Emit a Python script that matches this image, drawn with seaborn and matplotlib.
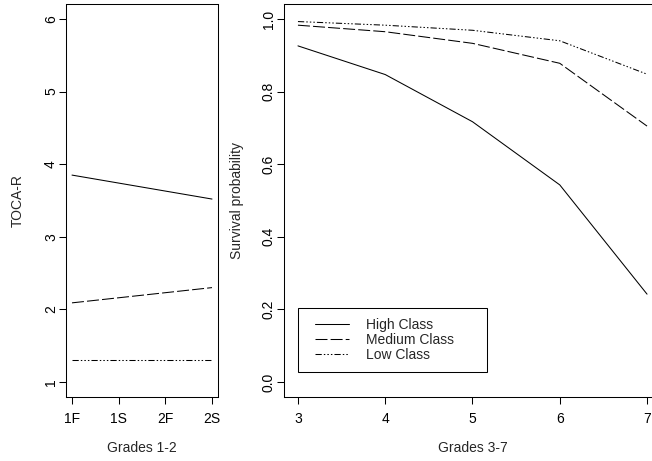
import numpy as np
import pandas as pd
import matplotlib
matplotlib.use("Agg")
import matplotlib.pyplot as plt
from matplotlib.legend_handler import HandlerLine2D
import seaborn as sns

# ---- data ----
classes = ["High Class", "Medium Class", "Low Class"]
grades12 = ["1F", "1S", "2F", "2S"]
toca_high = [3.85, 3.74, 3.63, 3.52]
toca_medium = [2.09, 2.16, 2.23, 2.30]
toca_low = [1.30, 1.30, 1.30, 1.30]

grades37 = [3, 4, 5, 6, 7]
surv_high = [0.926, 0.847, 0.717, 0.543, 0.242]
surv_medium = [0.983, 0.965, 0.933, 0.878, 0.705]
surv_low = [0.993, 0.983, 0.969, 0.940, 0.848]

sns.set_style("white")
plt.rcParams["font.family"] = ["Liberation Sans", "DejaVu Sans"]
plt.rcParams["font.size"] = 10

df1 = pd.DataFrame({
    "pos": list(range(1, 5)) * 3,
    "val": toca_high + toca_medium + toca_low,
    "cls": [c for c in classes for _ in grades12],
})
df2 = pd.DataFrame({
    "grade": grades37 * 3,
    "val": surv_high + surv_medium + surv_low,
    "cls": [c for c in classes for _ in grades37],
})

lw = 0.75
dashes = {
    "High Class": "",
    "Medium Class": (11.5, 3),
    "Low Class": (6, 2, 1.4, 2, 1.4, 2, 1.4, 2),
}
pal = {c: "black" for c in classes}

W, H = 652, 461
fig = plt.figure(figsize=(W / 100, H / 100), dpi=100)

def axpos(x0, x1, ytop, ybot):
    return [x0 / W, (H - ybot) / H, (x1 - x0) / W, (ybot - ytop) / H]

ax1 = fig.add_axes(axpos(66.4, 217.6, 4.5, 396.5))
ax2 = fig.add_axes(axpos(284, 661, 4.5, 396.5))

sns.lineplot(data=df1, x="pos", y="val", hue="cls", style="cls", palette=pal,
             dashes=dashes, ax=ax1, legend=False, linewidth=lw)
sns.lineplot(data=df2, x="grade", y="val", hue="cls", style="cls", palette=pal,
             dashes=dashes, ax=ax2, legend=False, linewidth=lw)

ax1.set_xlim(0.88, 4.12)
ax1.set_ylim(0.8, 6.2)
ax1.set_xticks(range(1, 5))
ax1.set_xticklabels(grades12)
ax1.set_yticks([1, 2, 3, 4, 5, 6])
ax1.set_xlabel("Grades 1-2")
ax1.set_ylabel("TOCA-R")

ax2.set_xlim(2.84, 7.16)
ax2.set_ylim(-0.04, 1.04)
ax2.set_xticks(grades37)
ax2.set_yticks([0.0, 0.2, 0.4, 0.6, 0.8, 1.0])
ax2.set_yticklabels(["0.0", "0.2", "0.4", "0.6", "0.8", "1.0"])
ax2.set_xlabel("Grades 3-7")
ax2.set_ylabel("Survival probability")

for ax in (ax1, ax2):
    for s in ax.spines.values():
        s.set_visible(True)
        s.set_color("black")
        s.set_linewidth(0.75)
    ax.tick_params(axis="both", direction="out", length=5, width=0.75,
                   color="black", labelcolor="black", labelsize=10,
                   bottom=True, left=True)
    ax.tick_params(axis="x", pad=6)
    ax.tick_params(axis="y", pad=1, labelrotation=90)
    for t in ax.get_yticklabels():
        t.set_va("center")
    ax.xaxis.label.set_va("center")
    ax.yaxis.label.set_va("center")
    ax.xaxis.label.set_size(10)
    ax.yaxis.label.set_size(10)

ax1.xaxis.set_label_coords(0.5, (396.5 - 448) / 392)
ax2.xaxis.set_label_coords(0.5, (396.5 - 448) / 392)
ax1.yaxis.set_label_coords((18 - 66.4) / 151.2, 0.5)
ax2.yaxis.set_label_coords((237 - 284) / 377, 0.5)

handles = ax2.get_lines()[:3]
leg = ax2.legend(handles, classes, loc="lower left",
                 bbox_to_anchor=((298 - 284) / 377, (396.5 - 372) / 392, 189 / 377, 63 / 392),
                 mode="expand", frameon=True, fancybox=False, framealpha=1,
                 edgecolor="black", handlelength=3.46, handletextpad=0.77,
                 numpoints=2,
                 handler_map={h: HandlerLine2D(marker_pad=0.51) for h in handles},
                 labelspacing=0.1, borderpad=0.7, borderaxespad=0, fontsize=10)
leg.get_frame().set_linewidth(0.75)

fig.savefig("out.png", dpi=100)
